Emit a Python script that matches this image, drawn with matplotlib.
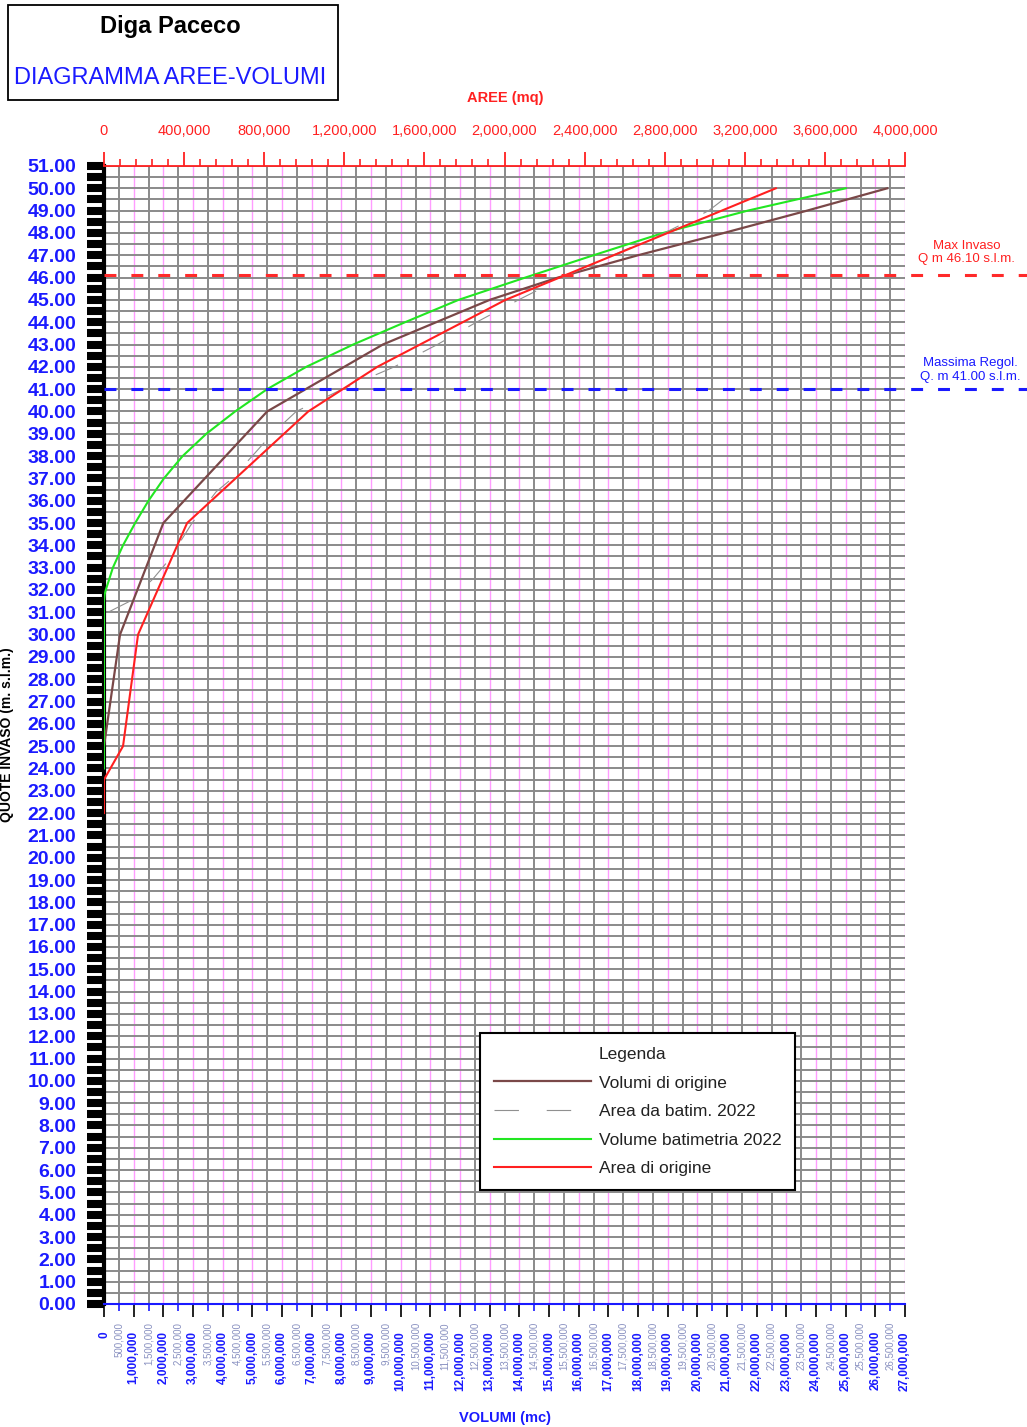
import matplotlib
matplotlib.use("Agg")
import matplotlib.pyplot as plt
import matplotlib.transforms as mtransforms
from matplotlib.lines import Line2D
from matplotlib.patches import Rectangle
from matplotlib.ticker import MultipleLocator, FuncFormatter, FormatStrFormatter

plt.rcParams["font.family"] = ["Liberation Sans", "DejaVu Sans"]

# Volumi di origine (quota m s.l.m. -> volume mc)
quote_vol_origine = [25, 30, 35, 40, 43, 45, 46, 47, 48, 49, 50]
vol_origine = [0, 540_000, 2_000_000, 5_500_000, 9_400_000, 13_000_000,
               15_300_000, 18_000_000, 20_900_000, 23_700_000, 26_400_000]

# Volume batimetria 2022
quote_vol_2022 = [24, 31.5, 31.8, 32, 33, 34, 35, 36, 37, 38, 39, 40, 41, 42,
                  43, 44, 45, 46, 47, 48, 49, 50]
vol_2022 = [0, 0, 20_000, 60_000, 300_000, 640_000, 1_050_000, 1_500_000,
            2_020_000, 2_650_000, 3_450_000, 4_420_000, 5_500_000, 6_820_000,
            8_400_000, 10_150_000, 11_950_000, 14_200_000, 16_500_000,
            18_850_000, 21_700_000, 25_000_000]

# Area di origine (quota -> area mq)
quote_area_origine = [22, 23.5, 25, 30, 35, 40, 42, 45, 50]
area_origine = [0, 0, 95_000, 170_000, 415_000, 1_020_000, 1_365_000,
                2_005_000, 3_355_000]

# Area da batimetria 2022
quote_area_2022 = [31, 31.5, 32.5, 33.3, 35, 36.4, 37, 38, 39, 40, 41, 42,
                   43, 44, 45, 46, 47, 48, 49, 50]
area_2022 = [20_000, 130_000, 245_000, 320_000, 440_000, 560_000, 640_000,
             740_000, 840_000, 960_000, 1_190_000, 1_450_000, 1_665_000,
             1_860_000, 2_070_000, 2_290_000, 2_540_000, 2_800_000,
             3_020_000, 3_165_000]

MAX_INVASO = 46.10
MAX_REGOL = 41.00

BLUE = "#1a1aff"
RED = "#ff2020"
W, H = 1027, 1427

fig = plt.figure(figsize=(W / 100, H / 100), dpi=100)
ax = fig.add_axes([104 / W, 1 - 1304 / H, 801 / W, 1138 / H])
ax.set_xlim(0, 27_000_000)
ax.set_ylim(0, 51)

thousands = FuncFormatter(lambda v, p: f"{v:,.0f}")

# bottom axis: volumes
ax.xaxis.set_major_locator(MultipleLocator(1_000_000))
ax.xaxis.set_minor_locator(MultipleLocator(500_000))
ax.xaxis.set_major_formatter(thousands)
ax.xaxis.set_minor_formatter(thousands)
ax.tick_params(axis="x", which="major", direction="out", length=9.5, width=1.4,
               color="#222222", labelcolor=BLUE, labelsize=8.5,
               labelrotation=90, pad=10)
ax.tick_params(axis="x", which="minor", direction="out", length=5, width=1.2,
               color=BLUE, labelcolor="#8890c0", labelsize=7,
               labelrotation=90, pad=8)
plt.setp(ax.get_xticklabels(), fontweight="bold")

# left axis: quote
ax.yaxis.set_major_locator(MultipleLocator(1))
ax.yaxis.set_minor_locator(MultipleLocator(0.5))
ax.yaxis.set_major_formatter(FormatStrFormatter("%.2f"))
ax.tick_params(axis="y", which="both", direction="out", length=12, width=5.8,
               color="black")
ax.tick_params(axis="y", which="major", labelsize=14, labelcolor=BLUE, pad=8)
plt.setp(ax.get_yticklabels(), fontweight="bold")

ax.grid(True, which="major", axis="x", color="#ff9cff", lw=1.0)
ax.grid(True, which="minor", axis="x", color="#8a8a8a", lw=1.4)
ax.grid(True, which="both", axis="y", color="#8a8a8a", lw=1.4)
ax.set_axisbelow(True)

ax.spines["left"].set_linewidth(3)
ax.spines["bottom"].set_color(BLUE)
ax.spines["bottom"].set_linewidth(1.5)
ax.spines["top"].set_visible(False)
ax.spines["right"].set_visible(False)

ax.set_xlabel("VOLUMI (mc)", color=BLUE, fontsize=10.5, fontweight="bold")
ax.xaxis.set_label_coords(0.5006, -0.094)
ax.set_ylabel("QUOTE INVASO (m. s.l.m.)", fontsize=10, fontweight="bold")
ax.yaxis.set_label_coords(-0.112, 0.5)

# top axis: areas
ax2 = ax.twiny()
ax2.set_xlim(0, 4_000_000)
ax2.xaxis.set_major_locator(MultipleLocator(400_000))
ax2.xaxis.set_minor_locator(MultipleLocator(80_000))
ax2.xaxis.set_major_formatter(thousands)
ax2.tick_params(axis="x", which="major", direction="out", length=10, width=1.3,
                color=RED, labelcolor=RED, labelsize=10.5, pad=10)
ax2.tick_params(axis="x", which="minor", direction="out", length=5, width=1.2,
                color=RED)
ax2.spines["top"].set_color(RED)
ax2.spines["top"].set_linewidth(1.3)
for s in ["bottom", "left", "right"]:
    ax2.spines[s].set_visible(False)
ax2.set_xlabel("AREE (mq)", color=RED, fontsize=10.5, fontweight="bold")
ax2.xaxis.set_label_coords(0.5006, 1.056)

# curves
l_area22, = ax2.plot(area_2022, quote_area_2022, color="#909090", lw=0.8,
                     ls=(0, (22, 25)), label="Area da batim. 2022", zorder=2)
l_vorig, = ax.plot(vol_origine, quote_vol_origine, color="#7a4848", lw=1.6,
                   label="Volumi di origine", zorder=3)
l_v22, = ax.plot(vol_2022, quote_vol_2022, color="#22e622", lw=1.5,
                 label="Volume batimetria 2022", zorder=3)
l_aorig, = ax2.plot(area_origine, quote_area_origine, color=RED, lw=1.5,
                    label="Area di origine", zorder=3)

# reference levels, running past the plot to the page edge
xmax_ext = (W - 104) / 801
ax2.axhline(MAX_INVASO, xmin=0, xmax=xmax_ext, color="#ff2a2a", lw=2.2,
            ls=(0, (3.9, 4.9)), clip_on=False, zorder=4)
ax2.axhline(MAX_REGOL, xmin=0, xmax=xmax_ext, color=BLUE, lw=2.2,
            ls=(0, (3.9, 4.9)), clip_on=False, zorder=4)
trans = mtransforms.blended_transform_factory(ax.transAxes, ax.transData)
ax.text(1.077, MAX_INVASO + 1.02, f"Max Invaso\nQ m {MAX_INVASO:.2f} s.l.m.",
        transform=trans, color="#ff2020", fontsize=9.5, ha="center",
        va="center", linespacing=1.2, clip_on=False)
ax.text(1.081, MAX_REGOL + 0.85, f"Massima Regol.\nQ. m {MAX_REGOL:.2f} s.l.m.",
        transform=trans, color=BLUE, fontsize=9.5, ha="center",
        va="center", linespacing=1.2, clip_on=False)

# legend
title_handle = Line2D([], [], color="none")
leg = ax2.legend([title_handle, l_vorig, l_area22, l_v22, l_aorig],
                 ["Legenda", "Volumi di origine", "Area da batim. 2022",
                  "Volume batimetria 2022", "Area di origine"],
                 loc="upper left", bbox_to_anchor=(480 / W, 1 - 1033 / H),
                 bbox_transform=fig.transFigure, borderaxespad=0,
                 fontsize=12.5, handlelength=5.6, handletextpad=0.45,
                 borderpad=0.8, labelspacing=0.77, fancybox=False,
                 framealpha=1, edgecolor="black")
leg.get_frame().set_linewidth(1.5)
for t in leg.get_texts():
    t.set_color("#222222")

# title box
fig.patches.append(Rectangle((8 / W, 1 - 100 / H), 330 / W, 95 / H,
                             transform=fig.transFigure, fill=False,
                             ec="black", lw=1.3))
fig.text(170 / W, 1 - 27 / H, "Diga Paceco", fontsize=17, fontweight="bold",
         ha="center", va="center")
fig.text(170 / W, 1 - 78 / H, "DIAGRAMMA AREE-VOLUMI", fontsize=17,
         color=BLUE, ha="center", va="center")

fig.savefig("out.png", dpi=100)
